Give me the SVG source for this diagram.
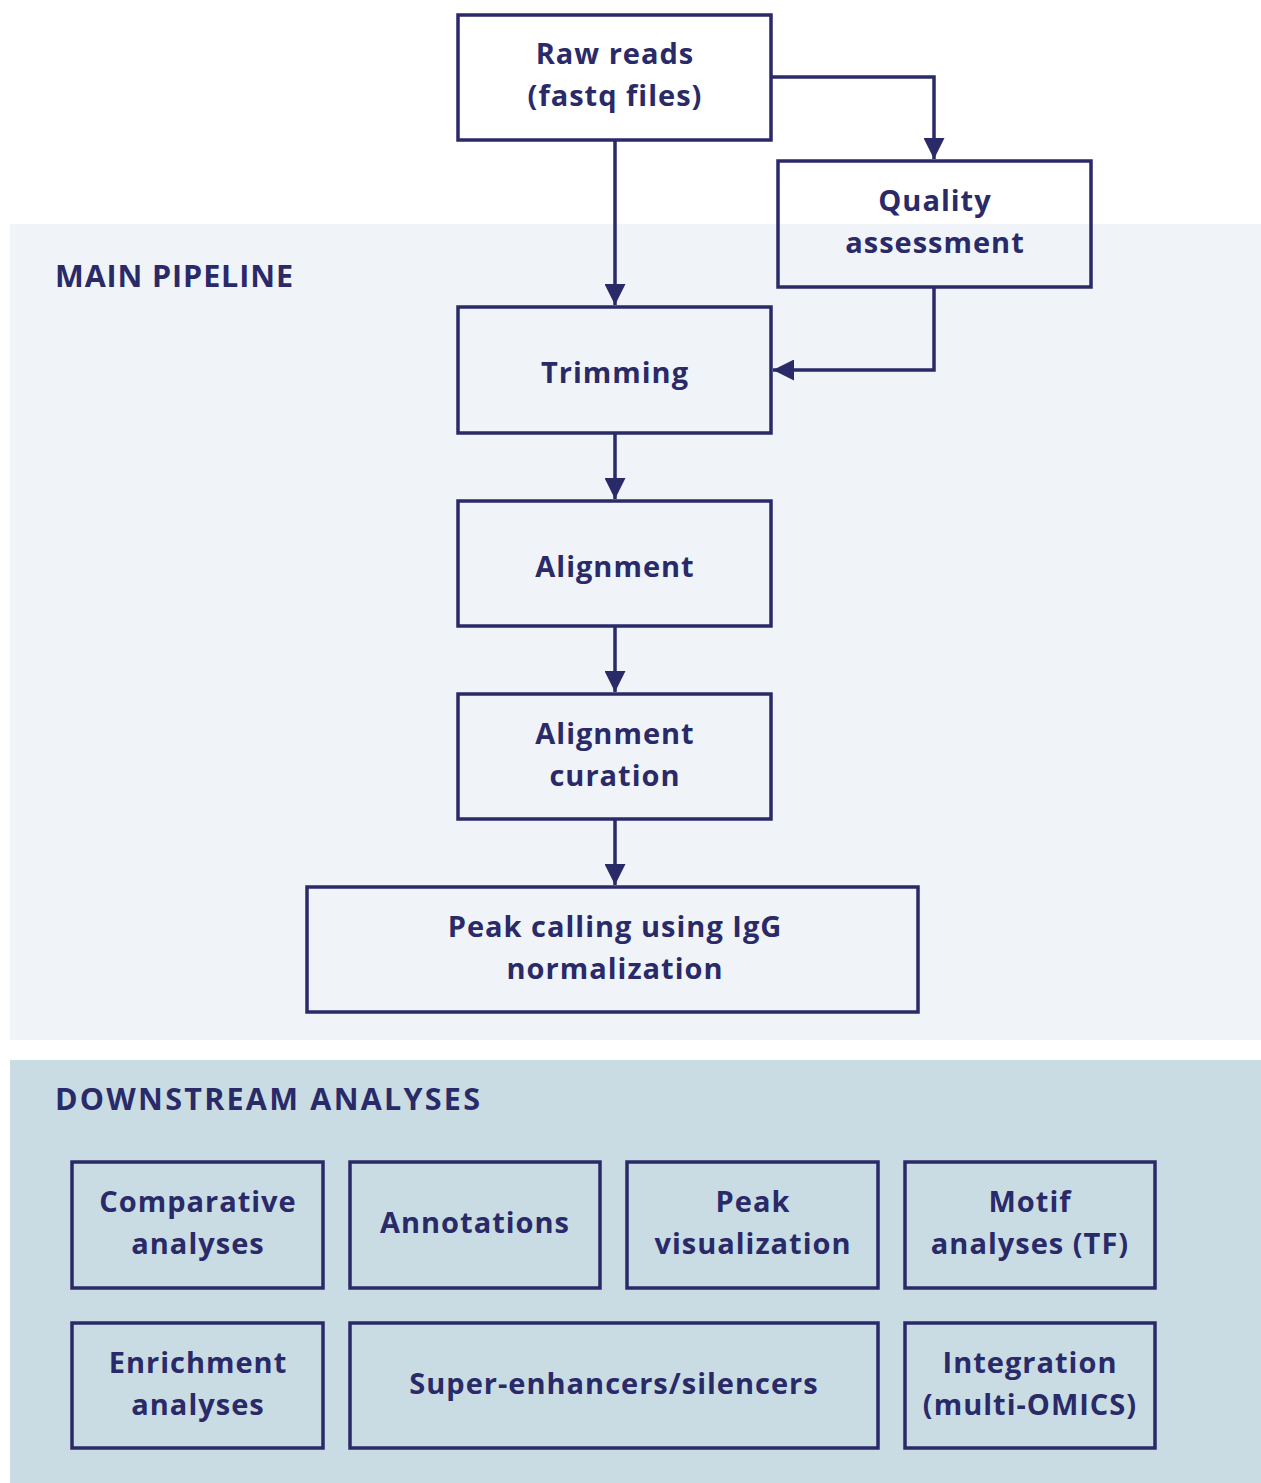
<svg xmlns="http://www.w3.org/2000/svg" width="1261" height="1483" viewBox="0 0 1261 1483">
<style>
.box{fill:none;stroke:#2a2a68;stroke-width:3.5}
.t{font-family:"Open Sans",Lato,sans-serif;font-weight:bold;font-size:29px;fill:#2a2a68;text-anchor:middle;letter-spacing:1px}
.h{font-family:"Open Sans",Lato,sans-serif;font-weight:bold;font-size:30.5px;fill:#2a2a68}
.c{fill:none;stroke:#2a2a68;stroke-width:3.5}
</style>
<defs>
<marker id="ah" viewBox="0 0 10 10" refX="10" refY="5" markerWidth="6" markerHeight="6" orient="auto" markerUnits="strokeWidth">
<path d="M0,0 L10,5 L0,10 z" fill="#2a2a68"/>
</marker>
</defs>
<rect width="1261" height="1483" fill="#ffffff"/>
<rect x="10" y="224" width="1251" height="816" fill="#f0f4f8"/>
<rect x="10" y="1060" width="1251" height="423" fill="#c9dce3"/>
<text class="h" x="55" y="287" textLength="238" lengthAdjust="spacing">MAIN PIPELINE</text>
<text class="h" x="55" y="1110" textLength="425" lengthAdjust="spacing">DOWNSTREAM ANALYSES</text>
<g id="connectors">
<path class="c" d="M615,141 V305" marker-end="url(#ah)"/>
<path class="c" d="M771,77 H934 V159" marker-end="url(#ah)"/>
<path class="c" d="M934,288 V370 H773" marker-end="url(#ah)"/>
<path class="c" d="M615,434 V499" marker-end="url(#ah)"/>
<path class="c" d="M615,627 V692" marker-end="url(#ah)"/>
<path class="c" d="M615,820 V885" marker-end="url(#ah)"/>
</g>
<g id="raw"><rect class="box" x="458" y="15" width="313" height="125" fill="#fff"/><text class="t" x="615" y="64">Raw reads</text><text class="t" x="615" y="106">(fastq files)</text></g>
<g id="quality"><rect class="box" x="778" y="161" width="313" height="126"/><text class="t" x="935" y="211">Quality</text><text class="t" x="935" y="253">assessment</text></g>
<g id="trimming"><rect class="box" x="458" y="307" width="313" height="126"/><text class="t" x="615" y="383">Trimming</text></g>
<g id="alignment"><rect class="box" x="458" y="501" width="313" height="125"/><text class="t" x="615" y="577">Alignment</text></g>
<g id="curation"><rect class="box" x="458" y="694" width="313" height="125"/><text class="t" x="615" y="744">Alignment</text><text class="t" x="615" y="786">curation</text></g>
<g id="peak"><rect class="box" x="307" y="887" width="611" height="125"/><text class="t" x="615" y="937">Peak calling using IgG</text><text class="t" x="615" y="979">normalization</text></g>
<g id="comparative"><rect class="box" x="72" y="1162" width="251" height="126"/><text class="t" x="198" y="1212">Comparative</text><text class="t" x="198" y="1254">analyses</text></g>
<g id="annotations"><rect class="box" x="350" y="1162" width="250" height="126"/><text class="t" x="475" y="1233">Annotations</text></g>
<g id="peakvis"><rect class="box" x="627" y="1162" width="251" height="126"/><text class="t" x="753" y="1212">Peak</text><text class="t" x="753" y="1254">visualization</text></g>
<g id="motif"><rect class="box" x="905" y="1162" width="250" height="126"/><text class="t" x="1030" y="1212">Motif</text><text class="t" x="1030" y="1254">analyses (TF)</text></g>
<g id="enrichment"><rect class="box" x="72" y="1323" width="251" height="125"/><text class="t" x="198" y="1373">Enrichment</text><text class="t" x="198" y="1415">analyses</text></g>
<g id="super"><rect class="box" x="350" y="1323" width="528" height="125"/><text class="t" x="614" y="1394">Super-enhancers/silencers</text></g>
<g id="integration"><rect class="box" x="905" y="1323" width="250" height="125"/><text class="t" x="1030" y="1373">Integration</text><text class="t" x="1030" y="1415">(multi-OMICS)</text></g>
</svg>
